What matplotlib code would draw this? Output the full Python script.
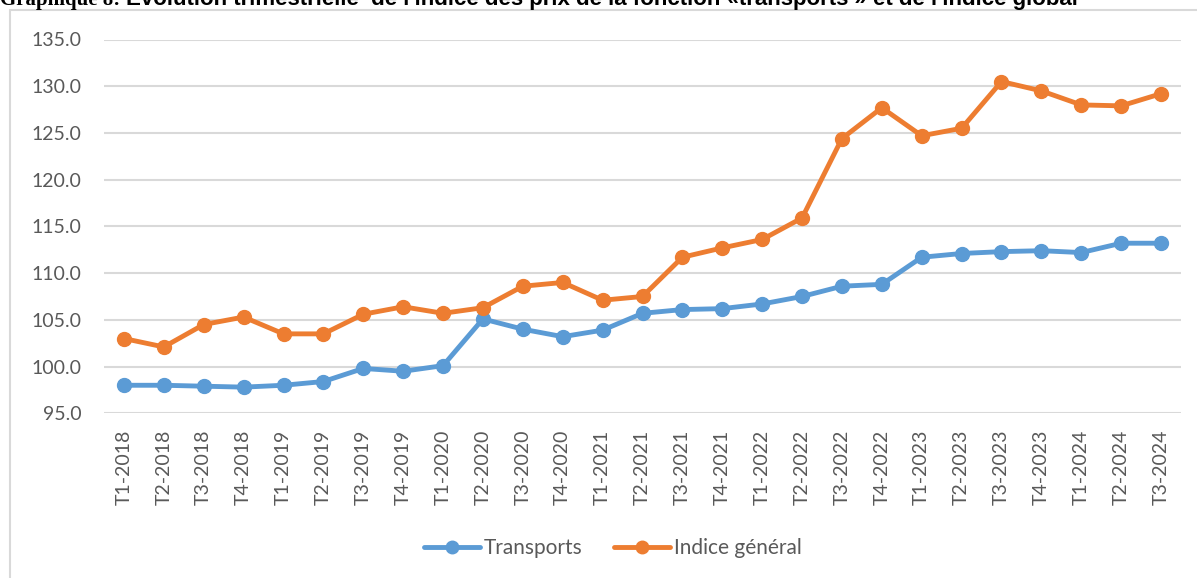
import matplotlib.pyplot as plt
from matplotlib.patches import Rectangle

# donnees
trimestres = ['T1-2018', 'T2-2018', 'T3-2018', 'T4-2018',
              'T1-2019', 'T2-2019', 'T3-2019', 'T4-2019',
              'T1-2020', 'T2-2020', 'T3-2020', 'T4-2020',
              'T1-2021', 'T2-2021', 'T3-2021', 'T4-2021',
              'T1-2022', 'T2-2022', 'T3-2022', 'T4-2022',
              'T1-2023', 'T2-2023', 'T3-2023', 'T4-2023',
              'T1-2024', 'T2-2024', 'T3-2024']
transports = [98.0, 98.0, 97.9, 97.8, 98.0, 98.4, 99.8, 99.5, 100.1,
              105.1, 104.0, 103.2, 103.9, 105.7, 106.1, 106.2, 106.7,
              107.5, 108.6, 108.8, 111.7, 112.1, 112.3, 112.4, 112.2,
              113.2, 113.2]
indice_general = [103.0, 102.1, 104.5, 105.3, 103.5, 103.5, 105.6, 106.4,
                  105.7, 106.3, 108.6, 109.0, 107.1, 107.5, 111.7, 112.7,
                  113.6, 115.9, 124.4, 127.7, 124.7, 125.5, 130.5, 129.5,
                  128.0, 127.9, 129.2]
yticks = [95, 100, 105, 110, 115, 120, 125, 130, 135]

gris = '#595959'
police = 'Lato'

fig = plt.figure(figsize=(11.97, 5.78), dpi=100)

# cadre du graphique
fig.patches.append(Rectangle((10 / 1197, -0.1), 1.1, 1 - 10.5 / 578 + 0.1,
                             transform=fig.transFigure, fill=False,
                             edgecolor='#d9d9d9', linewidth=1.5))

# titre (coupe en haut comme dans l'original)
fig.text(0.0, 1 - 5 / 578, 'Graphique 8:', family='Liberation Serif',
         fontweight='bold', fontsize=15, va='baseline', ha='left')
fig.text(126 / 1197, 1 - 5 / 578,
         "Evolution trimestrielle  de l'indice des prix de la fonction «transports » et de l'indice global",
         family='Liberation Sans', fontweight='bold', fontsize=16,
         va='baseline', ha='left')

ax = fig.add_axes([104 / 1197, 1 - 413.3 / 578, (1181 - 104) / 1197,
                   (413.3 - 39.5) / 578])
x = range(len(trimestres))
ax.plot(x, transports, color='#5B9BD5', linewidth=3.5, marker='o',
        markersize=10, label='Transports', solid_capstyle='round')
ax.plot(x, indice_general, color='#ED7D31', linewidth=3.5, marker='o',
        markersize=10, label='Indice général', solid_capstyle='round')

ax.set_xlim(-0.5, len(trimestres) - 0.5)
ax.set_ylim(95, 135)
ax.set_yticks(yticks)
ax.set_yticklabels([f'{v:.1f}' for v in yticks], family=police,
                   fontsize=14, color=gris)
ax.set_xticks(list(x))
ax.set_xticklabels(trimestres, rotation=90, family=police, fontsize=14,
                   color=gris)
ax.tick_params(axis='both', length=0)
ax.tick_params(axis='y', pad=16)
ax.tick_params(axis='x', pad=12)
ax.grid(axis='y', color='#d9d9d9', linewidth=1.5)
ax.set_axisbelow(True)
for s in ax.spines.values():
    s.set_visible(False)

leg = fig.legend(loc='center', bbox_to_anchor=(613 / 1197, 1 - 548 / 578),
                 ncol=2, frameon=False, prop={'family': police, 'size': 15},
                 handlelength=2.7, columnspacing=1.5, handletextpad=0.2,
                 markerscale=0.9)
for t in leg.get_texts():
    t.set_color(gris)

fig.savefig('out.png', dpi=100)
